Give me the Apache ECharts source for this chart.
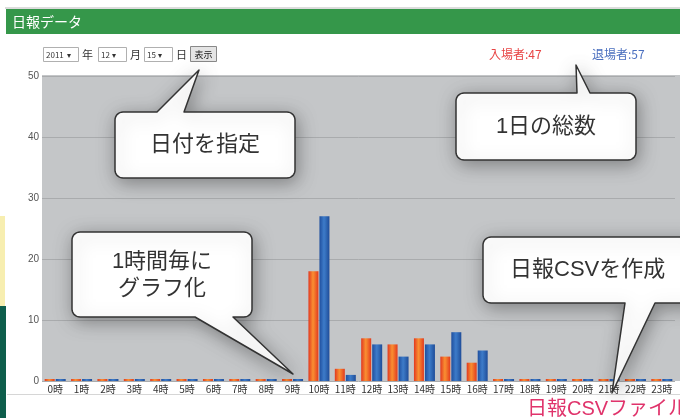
<!DOCTYPE html>
<html><head><meta charset="utf-8">
<script src="https://cdn.jsdelivr.net/npm/echarts@6/dist/echarts.min.js"></script>
<style>html,body{margin:0;padding:0;background:#fff;}#c{width:680px;height:418px;}</style>
</head><body><div id="c"></div>
<script>
const hours = ['0時','1時','2時','3時','4時','5時','6時','7時','8時','9時','10時','11時','12時','13時','14時','15時','16時','17時','18時','19時','20時','21時','22時','23時'];
const entries = [0,0,0,0,0,0,0,0,0,0,18,2,7,6,7,4,3,0,0,0,0,0,0,0];
const exits   = [0,0,0,0,0,0,0,0,0,0,27,1,6,4,6,8,5,0,0,0,0,0,0,0];
const yTicks = [0,10,20,30,40,50];
const totalIn = entries.reduce((a,b)=>a+b,0);
const totalOut = exits.reduce((a,b)=>a+b,0);

const FONT = '"Noto Sans CJK JP", "Noto Sans", sans-serif';
const CFONT = '"Liberation Sans", "Noto Sans CJK JP", sans-serif';

function arc(pts, cx, cy, r, a0, a1){
  const n = 8;
  for (let i=0;i<=n;i++){
    const a = a0 + (a1-a0)*i/n;
    pts.push([cx + r*Math.cos(a), cy + r*Math.sin(a)]);
  }
}
function bubble(x1,y1,x2,y2,r,tail){
  const P = Math.PI, pts = [];
  arc(pts, x1+r, y1+r, r, P, 1.5*P);
  if (tail.side==='top') { pts.push([tail.a,y1],[tail.tx,tail.ty],[tail.b,y1]); }
  arc(pts, x2-r, y1+r, r, 1.5*P, 2*P);
  arc(pts, x2-r, y2-r, r, 0, 0.5*P);
  if (tail.side==='bottom') { pts.push([tail.b,y2],[tail.tx,tail.ty],[tail.a,y2]); }
  arc(pts, x1+r, y2-r, r, 0.5*P, P);
  return {
    type:'polygon', z:100,
    shape:{points:pts},
    style:{fill:'#fff', stroke:'#333', lineWidth:1.5, lineJoin:'round', shadowBlur:18, shadowColor:'rgba(0,0,0,0.35)', shadowOffsetX:2, shadowOffsetY:4}
  };
}
function txt(x,y,t,size,color,align,extra,font){
  return Object.assign({type:'text', z:101, x:x, y:y,
    style:{text:t, fontSize:size, fill:color, fontFamily:font||FONT, align:align||'left', verticalAlign:'middle'}}, extra||{});
}
function box(x,y,w,h,fill,stroke){
  return {type:'rect', z:50, shape:{x:x,y:y,width:w,height:h}, style:{fill:fill, stroke:stroke, lineWidth:1}};
}

const redGrad = {type:'linear',x:0,y:0,x2:1,y2:0,colorStops:[{offset:0,color:'#e2381f'},{offset:0.45,color:'#f98f32'},{offset:0.6,color:'#f47a2c'},{offset:1,color:'#e23a1e'}]};
const blueGrad = {type:'linear',x:0,y:0,x2:1,y2:0,colorStops:[{offset:0,color:'#1f4f9e'},{offset:0.45,color:'#3d7bc9'},{offset:0.6,color:'#3570bd'},{offset:1,color:'#1f4c98'}]};

const chart = echarts.init(document.getElementById('c'), null, {renderer:'canvas'});
chart.setOption({
  animation:false,
  backgroundColor:'#fff',
  grid:{left:42, right:5, top:76, bottom:37, containLabel:false},
  xAxis:{type:'category', data:hours,
    axisLine:{show:false}, axisTick:{show:false},
    axisLabel:{fontSize:10, color:'#333', margin:3, interval:0, fontFamily:FONT}},
  yAxis:{type:'value', min:0, max:50, interval:10,
    axisLine:{show:false}, axisTick:{show:false},
    axisLabel:{fontSize:10, color:'#555', margin:3, fontFamily:'"Liberation Sans", sans-serif',
      formatter:(v)=> yTicks.includes(v)? String(v):''},
    splitLine:{lineStyle:{color:'#a9abad', width:1}}},
  series:[
    {name:'入場者', type:'bar', data:entries, barWidth:10, barGap:'10%', barMinHeight:2,
     itemStyle:{color:redGrad}},
    {name:'退場者', type:'bar', data:exits, barWidth:10, barGap:'10%', barMinHeight:2,
     itemStyle:{color:blueGrad}}
  ],
  graphic:[
    {type:'rect', z:-10, shape:{x:42,y:75,width:638,height:306}, style:{fill:'#c4c6c8'}},
    {type:'rect', z:-9, shape:{x:5,y:7,width:675,height:2}, style:{fill:'#dcdcdc'}},
    {type:'rect', z:-9, shape:{x:6,y:9,width:674,height:25}, style:{fill:'#35974a'}},
    txt(12,22,'日報データ',14,'#fff','left',{z:-8}),
    {type:'rect', z:-9, shape:{x:0,y:216,width:5,height:90}, style:{fill:'#f7eeb0'}},
    {type:'rect', z:-9, shape:{x:0,y:306,width:6,height:112}, style:{fill:'#0e5e4c'}},
    {type:'rect', z:-9, shape:{x:7,y:394,width:673,height:1}, style:{fill:'#d6d6d6'}},
    box(43.5,47.5,35,14,'#fff','#b0b0b0'), txt(46,55,'2011  ▾',8,'#333'),
    txt(82,55,'年',11,'#333'),
    box(98.5,47.5,28,14,'#fff','#b0b0b0'), txt(101,55,'12 ▾',8,'#333'),
    txt(130,55,'月',11,'#333'),
    box(144.5,47.5,28,14,'#fff','#b0b0b0'), txt(147,55,'15 ▾',8,'#333'),
    txt(176,55,'日',11,'#333'),
    box(190.5,46.5,26,15,'#e4e4e4','#888'), txt(203.5,54.5,'表示',9,'#222','center'),
    txt(489,54,'入場者:'+totalIn,12,'#e84545'),
    txt(592,54,'退場者:'+totalOut,12,'#4a6fbf'),
    bubble(115,112,295,178,8,{side:'top',a:157,b:184,tx:199,ty:70}),
    txt(205,145,'日付を指定',22,'#333','center',null,CFONT),
    bubble(456,93,636,160,8,{side:'top',a:577,b:590,tx:576,ty:65}),
    txt(546,127,'1日の総数',22,'#333','center',null,CFONT),
    bubble(72,232,252,317,8,{side:'bottom',a:195,b:233,tx:293,ty:374}),
    txt(162,262,'1時間毎に',22,'#333','center',null,CFONT),
    txt(162,289,'グラフ化',22,'#333','center',null,CFONT),
    bubble(483,237,700,303,8,{side:'bottom',a:625,b:655,tx:612,ty:393}),
    txt(510,270,'日報CSVを作成',22,'#333','left',null,CFONT),
    txt(527,409,'日報CSVファイル',20,'#e0336b','left',null,CFONT)
  ]
});
</script></body></html>
